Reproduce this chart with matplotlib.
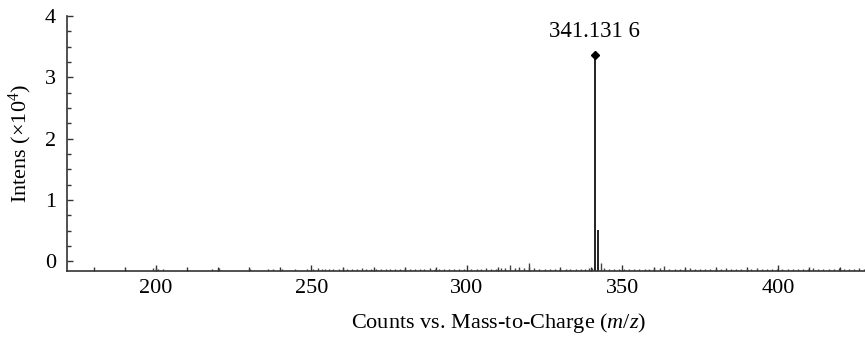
import matplotlib
matplotlib.use("Agg")
import matplotlib.pyplot as plt
from matplotlib.ticker import MultipleLocator

plt.rcParams['font.family'] = ['Liberation Serif', 'DejaVu Serif']
plt.rcParams['mathtext.fontset'] = 'custom'
plt.rcParams['mathtext.rm'] = 'Liberation Serif'
plt.rcParams['mathtext.it'] = 'Liberation Serif:italic'

# ---- data (intensity in units of 1e4) ----
baseline = -0.155
major_mz = [341.13, 342.13]
major_int = [3.37, 0.52]
peak_label = "341.131 6"

noise_mz = [
    199.2, 199.9, 200.6, 202.4, 218.0, 220.3, 230.3, 236.1, 237.6, 240.5,
    244.6, 248.7, 250.6, 252.1, 253.4, 254.5, 255.8, 257.0, 258.9, 260.3,
    261.4, 263.0, 264.7, 266.1, 267.5, 269.2, 270.8, 272.4, 273.9, 275.3,
    276.8, 278.6, 280.1, 281.7, 283.2, 284.9, 286.3, 288.0, 289.6, 291.1,
    292.7, 294.3, 296.0, 297.4, 299.0, 301.2, 303.1, 304.5, 306.0, 307.7,
    309.2, 310.8, 312.4, 314.0, 315.3, 316.9, 318.2, 320.1, 321.6, 323.3,
    325.0, 326.7, 328.4, 330.0, 331.7, 333.3, 335.0, 336.6, 338.0, 339.2,
    340.2, 343.1, 344.2, 345.6, 347.2, 348.9, 350.5, 352.2, 353.8, 355.4,
    357.1, 358.7, 360.3, 362.0, 363.5, 365.1, 366.8, 368.4, 370.1, 371.7,
    373.4, 375.0, 376.7, 378.3, 380.0, 381.6, 383.3, 384.9, 386.6, 388.2,
    389.9, 391.5, 393.2, 394.8, 396.5, 398.1, 399.8, 401.4, 403.1, 404.7,
    406.4, 408.0, 409.7, 411.3, 413.0, 414.6, 416.3, 417.9, 419.6, 421.2,
    422.9, 424.5, 426.2, 427.6,
]
noise_int = [
    -0.10, -0.11, -0.12, -0.13, -0.13, -0.11, -0.12, -0.13, -0.13, -0.12,
    -0.13, -0.13, -0.12, -0.11, -0.12, -0.13, -0.12, -0.13, -0.12, -0.11,
    -0.13, -0.12, -0.13, -0.11, -0.12, -0.13, -0.12, -0.13, -0.12, -0.13,
    -0.12, -0.13, -0.11, -0.13, -0.12, -0.13, -0.12, -0.11, -0.13, -0.12,
    -0.13, -0.12, -0.13, -0.12, -0.13, -0.12, -0.13, -0.12, -0.11, -0.12,
    -0.12, -0.10, -0.11, -0.06, -0.10, -0.09, -0.11, -0.02, -0.11, -0.12,
    -0.13, -0.12, -0.13, -0.12, -0.13, -0.12, -0.13, -0.12, -0.12, -0.11,
    -0.10, -0.02, -0.11, -0.12, -0.13, -0.12, -0.13, -0.12, -0.13, -0.12,
    -0.13, -0.12, -0.11, -0.10, -0.08, -0.12, -0.13, -0.12, -0.13, -0.11,
    -0.12, -0.13, -0.12, -0.13, -0.12, -0.13, -0.11, -0.12, -0.13, -0.12,
    -0.13, -0.12, -0.11, -0.13, -0.12, -0.13, -0.12, -0.13, -0.12, -0.13,
    -0.12, -0.13, -0.12, -0.11, -0.13, -0.12, -0.13, -0.12, -0.11, -0.12,
    -0.13, -0.12, -0.11, -0.12,
]

x_range = (171.4, 428.0)
y_range = (baseline, 4.0)

fig = plt.figure(figsize=(8.65, 3.4), dpi=100)
ax = fig.add_axes([67/865, (340-271)/340, 1 - 67/865, (271-16)/340])

ax.vlines(noise_mz, baseline, noise_int, color='#444444', lw=1.0)
ax.vlines(major_mz, baseline, major_int, color='#111111', lw=1.3)
ax.plot([major_mz[0]], [major_int[0]], marker='D', ms=4, color='black',
        linestyle='none', clip_on=False)
ax.annotate(peak_label, xy=(major_mz[0], major_int[0]), xytext=(0, 9),
            textcoords='offset points', ha='center', va='bottom', fontsize=16.5)

ax.set_xlim(*x_range)
ax.set_ylim(*y_range)
for s in ['top', 'right']:
    ax.spines[s].set_visible(False)
for s in ['left', 'bottom']:
    ax.spines[s].set_color('#333333')
    ax.spines[s].set_linewidth(1.2)

ax.xaxis.set_major_locator(MultipleLocator(50))
ax.xaxis.set_minor_locator(MultipleLocator(10))
ax.yaxis.set_major_locator(MultipleLocator(1))
ax.yaxis.set_minor_locator(MultipleLocator(0.25))
ax.tick_params(axis='both', which='major', direction='in', length=4, width=1,
               color='#333333', labelsize=16)
ax.tick_params(axis='both', which='minor', direction='in', length=3, width=1,
               color='#333333')
ax.tick_params(axis='y', which='major', pad=8)
ax.tick_params(axis='x', which='major', pad=6)

ax.set_ylabel('Intens (×10$^4$)', fontsize=16, labelpad=8)
ax.set_xlabel('Counts vs. Mass-to-Charge ($m/z$)', fontsize=16)
ax.xaxis.set_label_coords((499-67)/798, -0.155)

fig.savefig('out.png', dpi=100)
